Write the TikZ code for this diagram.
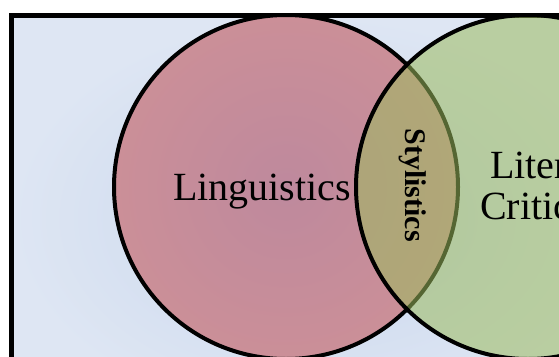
\documentclass[tikz,border=0pt]{standalone}
\usepackage{fontspec}
\setmainfont{Liberation Serif}
\definecolor{bgin}{RGB}{200,214,238}
\definecolor{bgout}{RGB}{222,230,243}
\definecolor{redin}{RGB}{190,137,157}
\definecolor{redout}{RGB}{203,143,152}
\definecolor{greenfill}{RGB}{156,187,94}
\begin{document}
\begin{tikzpicture}[x=1pt,y=-1pt,
  ring/.style={line width=4pt},
  bigtext/.style={font=\fontsize{40}{42}\selectfont, inner sep=0pt}]
\useasboundingbox (0,0) rectangle (559,356);
\clip (0,0) rectangle (559,356);
\coordinate (lingc) at (286,187);
\coordinate (litc) at (528,187);
\shade[inner color=bgin, outer color=bgout] (11,15.5) rectangle (620,420);
\draw[line width=5pt] (11,420) -- (11,15.5) -- (620,15.5);
\shade[inner color=redin, outer color=redout] (lingc) circle [radius=172];
\draw[ring] (lingc) circle [radius=172];
\fill[greenfill, opacity=0.55] (litc) circle [radius=172];
\draw[ring] (litc) circle [radius=172];
\node[bigtext, anchor=base] (ling) at (262,200) {Linguistics};
\node[font=\fontsize{30}{32}\selectfont\bfseries, inner sep=0pt, rotate=-90] (styl) at (413,185) {Stylistics};
\node[bigtext, anchor=base west] (liter) at (490,178) {Liter};
\node[bigtext, anchor=base west] (critic) at (480,219) {Critic};
\end{tikzpicture}
\end{document}
